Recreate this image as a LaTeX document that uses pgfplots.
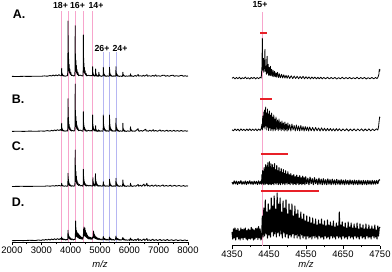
\documentclass[border=0pt]{standalone}
\usepackage{pgfplots}
\usepackage{pgfplotstable}
\pgfplotsset{compat=1.18}
\usepackage{fontspec}
\setmainfont{Liberation Sans}
\definecolor{pinkl}{RGB}{247,165,204}
\definecolor{bluel}{RGB}{182,182,242}
\definecolor{redbar}{RGB}{232,32,40}

\pgfplotstableread[row sep=\\]{x h\\
2000 0.3\\ 2200 0.2\\ 2400 0.4\\ 2600 0.3\\ 2800 0.5\\ 3000 0.4\\ 3100 0.8\\ 3200 0.5\\ 3300 1.2\\ 3350 0.6\\ 3400 1.6\\ 3450 0.8\\ 3500 1.8\\ 3550 0.9\\ 3600 2.0\\ 3650 1.0\\
3679 1.0\\ 3689 1.3\\ 3694 8.4\\ 3699 2.1\\ 3704 3.8\\ 3710 1.3\\ 3716 2.7\\ 3724 1.0\\ 3732 1.8\\ 3742 0.8\\ 3754 1.2\\ 3769 0.6\\ 3786 0.9\\ 3809 0.5\\
3895 1.1\\ 3905 8.4\\ 3910 55.7\\ 3915 13.9\\ 3920 25.1\\ 3926 8.4\\ 3932 17.8\\ 3940 5.6\\ 3948 12.3\\ 3958 3.9\\ 3970 7.8\\ 3985 2.2\\ 4002 4.5\\ 4025 1.1\\ 4060 1.5\\ 4100 0.8\\
4140 1.0\\ 4150 7.7\\ 4155 51\\ 4160 12.8\\ 4165 23\\ 4171 7.7\\ 4177 16.3\\ 4185 5.1\\ 4193 11.2\\ 4203 3.6\\ 4215 7.1\\ 4230 2.0\\ 4247 4.1\\ 4270 1.0\\ 4320 1.6\\ 4380 0.9\\
4417 0.8\\ 4427 6.3\\ 4432 41.7\\ 4437 10.4\\ 4442 18.8\\ 4448 6.3\\ 4454 13.3\\ 4462 4.2\\ 4470 9.2\\ 4480 2.9\\ 4492 5.8\\ 4507 1.7\\ 4524 3.3\\ 4547 0.8\\ 4600 1.5\\ 4660 0.9\\ 4700 1.2\\
4733 0.8\\ 4743 1.5\\ 4748 10\\ 4753 2.5\\ 4758 4.5\\ 4764 1.5\\ 4770 3.2\\ 4778 1.0\\ 4786 2.2\\ 4796 0.7\\ 4808 1.4\\ 4823 0.5\\ 4835 0.9\\
4845 1.2\\ 4850 7.7\\ 4855 1.9\\ 4860 3.5\\ 4866 1.2\\ 4872 2.5\\ 4880 0.8\\ 4888 1.7\\ 4898 0.5\\ 4910 1.1\\ 4925 0.4\\ 4940 0.7\\
4952 0.5\\ 4960 4.4\\ 4970 1.3\\ 4980 2.0\\ 4995 0.7\\ 5015 0.9\\ 5040 0.3\\ 5080 0.8\\
5098 0.6\\ 5108 1.4\\ 5113 9.4\\ 5118 2.4\\ 5123 4.2\\ 5129 1.4\\ 5135 3.0\\ 5143 0.9\\ 5151 2.1\\ 5161 0.7\\ 5173 1.3\\ 5188 0.4\\ 5205 0.8\\ 5228 0.3\\ 5260 0.9\\ 5290 0.4\\
5310 0.6\\ 5320 1.4\\ 5325 9.4\\ 5330 2.4\\ 5335 4.2\\ 5341 1.4\\ 5347 3.0\\ 5355 0.9\\ 5363 2.1\\ 5373 0.7\\ 5385 1.3\\ 5400 0.4\\ 5417 0.8\\ 5440 0.3\\ 5480 0.9\\ 5510 0.4\\
5530 0.6\\ 5540 1.5\\ 5545 10\\ 5550 2.5\\ 5555 4.5\\ 5561 1.5\\ 5567 3.2\\ 5575 1.0\\ 5583 2.2\\ 5593 0.7\\ 5605 1.4\\ 5620 0.4\\ 5637 0.8\\ 5660 0.3\\ 5700 0.8\\ 5740 0.3\\
5770 0.5\\ 5780 4.4\\ 5790 1.3\\ 5800 2.0\\ 5815 0.7\\ 5835 0.9\\ 5860 0.3\\ 5900 0.8\\ 5950 0.4\\ 5990 0.9\\
6030 0.4\\ 6040 2.8\\ 6050 0.9\\ 6060 1.3\\ 6080 0.5\\ 6100 0.7\\ 6140 0.3\\
6200 1.2\\ 6240 0.4\\ 6300 2.2\\ 6320 0.6\\ 6380 1.0\\ 6430 0.4\\ 6480 1.4\\ 6520 0.5\\ 6600 2.0\\ 6620 0.5\\ 6680 1.0\\ 6740 0.4\\ 6800 1.3\\ 6850 0.5\\ 6900 1.8\\ 6930 0.5\\ 7000 1.0\\ 7060 0.4\\ 7120 1.3\\ 7200 1.5\\ 7230 0.4\\ 7300 1.1\\ 7360 0.4\\ 7420 1.2\\ 7500 1.5\\ 7530 0.4\\ 7600 1.0\\ 7680 0.5\\ 7750 1.2\\ 7800 1.3\\ 7840 0.4\\ 7900 1.0\\ 7960 0.4\\ 8000 0.8\\
}\leftA

\pgfplotstableread[row sep=\\]{x h\\
2000 0.3\\ 2200 0.5\\ 2400 0.3\\ 2600 0.6\\ 2800 0.4\\ 3000 0.7\\ 3100 0.5\\ 3200 1.1\\ 3300 0.6\\ 3350 1.4\\ 3400 0.8\\ 3450 1.7\\ 3500 1.0\\ 3550 2.0\\ 3600 1.2\\ 3650 2.2\\
3679 1.2\\ 3689 1.3\\ 3694 8.4\\ 3699 2.1\\ 3704 3.8\\ 3710 1.3\\ 3716 2.7\\ 3724 1.0\\ 3732 1.8\\ 3742 0.8\\ 3754 1.2\\ 3769 0.6\\ 3786 0.9\\ 3809 0.5\\ 3850 0.9\\
3895 0.7\\ 3905 5.0\\ 3910 33\\ 3915 8.3\\ 3920 14.9\\ 3926 5.0\\ 3932 10.6\\ 3940 3.3\\ 3948 7.3\\ 3958 2.3\\ 3970 4.6\\ 3985 1.3\\ 4002 2.6\\ 4025 0.7\\ 4060 1.3\\ 4100 0.7\\
4140 1.0\\ 4150 7.2\\ 4155 47.7\\ 4160 11.9\\ 4165 21.5\\ 4171 7.2\\ 4177 15.3\\ 4185 4.8\\ 4193 10.5\\ 4203 3.3\\ 4215 6.7\\ 4230 1.9\\ 4247 3.8\\ 4270 1.0\\ 4320 1.6\\ 4380 0.9\\
4417 0.4\\ 4427 3.0\\ 4432 20\\ 4437 5.0\\ 4442 9.0\\ 4448 3.0\\ 4454 6.4\\ 4462 2.0\\ 4470 4.4\\ 4480 1.4\\ 4492 2.8\\ 4507 0.8\\ 4524 1.6\\ 4547 0.4\\ 4600 1.4\\ 4660 0.8\\ 4700 1.2\\
4733 0.6\\ 4743 2.5\\ 4748 16.7\\ 4753 4.2\\ 4758 7.5\\ 4764 2.5\\ 4770 5.3\\ 4778 1.7\\ 4786 3.7\\ 4796 1.2\\ 4808 2.3\\ 4823 0.7\\ 4835 1.3\\
4845 0.8\\ 4850 6\\ 4855 1.5\\ 4860 2.7\\ 4866 0.9\\ 4872 1.9\\ 4880 0.6\\ 4888 1.3\\ 4898 0.4\\ 4910 0.8\\ 4925 0.3\\ 4950 1.8\\ 4960 0.5\\ 4975 1.2\\ 5000 0.4\\ 5040 0.9\\ 5080 0.5\\
5098 0.6\\ 5108 2.5\\ 5113 16.7\\ 5118 4.2\\ 5123 7.5\\ 5129 2.5\\ 5135 5.3\\ 5143 1.7\\ 5151 3.7\\ 5161 1.2\\ 5173 2.3\\ 5188 0.7\\ 5205 1.3\\ 5228 0.4\\ 5260 1.0\\ 5290 0.5\\
5310 0.6\\ 5320 2.5\\ 5325 16.7\\ 5330 4.2\\ 5335 7.5\\ 5341 2.5\\ 5347 5.3\\ 5355 1.7\\ 5363 3.7\\ 5373 1.2\\ 5385 2.3\\ 5400 0.7\\ 5417 1.3\\ 5440 0.4\\ 5480 1.0\\ 5510 0.5\\
5530 0.5\\ 5540 2.0\\ 5545 13.4\\ 5550 3.4\\ 5555 6.0\\ 5561 2.0\\ 5567 4.3\\ 5575 1.3\\ 5583 2.9\\ 5593 0.9\\ 5605 1.9\\ 5620 0.5\\ 5637 1.1\\ 5660 0.3\\ 5700 0.9\\ 5740 0.4\\
5765 0.4\\ 5775 1.3\\ 5780 8.4\\ 5785 2.1\\ 5790 3.8\\ 5796 1.3\\ 5802 2.7\\ 5810 0.8\\ 5818 1.8\\ 5828 0.6\\ 5840 1.2\\ 5855 0.3\\ 5872 0.7\\ 5895 0.3\\ 5950 0.9\\ 5990 0.4\\
6030 0.4\\ 6040 5\\ 6050 1.5\\ 6060 2.2\\ 6075 0.7\\ 6090 1.1\\ 6110 0.4\\ 6140 0.7\\
6200 0.5\\ 6300 3.0\\ 6310 0.8\\ 6320 1.3\\ 6340 0.4\\ 6400 1.2\\ 6450 0.5\\ 6560 2.5\\ 6575 0.6\\ 6600 1.0\\ 6650 0.4\\ 6700 1.5\\ 6750 0.5\\ 6820 2.0\\ 6840 0.5\\ 6900 1.2\\ 6960 0.4\\ 7050 1.8\\ 7080 0.5\\ 7150 1.2\\ 7200 0.4\\ 7280 1.5\\ 7320 0.5\\ 7400 1.2\\ 7450 0.4\\ 7520 1.4\\ 7560 0.5\\ 7650 1.1\\ 7700 0.4\\ 7780 1.3\\ 7820 0.4\\ 7900 1.0\\ 7950 0.5\\ 8000 0.8\\
}\leftB

\pgfplotstableread[row sep=\\]{x h\\
2000 0.2\\ 2300 0.4\\ 2600 0.3\\ 2900 0.5\\ 3100 0.4\\ 3200 0.8\\ 3300 0.5\\ 3400 1.0\\ 3450 0.6\\ 3500 1.2\\ 3550 0.7\\ 3600 1.3\\ 3650 0.8\\
3684 0.9\\ 3694 3.4\\ 3704 1.2\\ 3714 1.6\\ 3729 0.7\\ 3749 0.9\\ 3774 0.4\\ 3820 0.8\\ 3860 0.5\\
3895 0.5\\ 3905 2.0\\ 3910 13.4\\ 3915 4.4\\ 3920 7.8\\ 3926 2.6\\ 3932 5.6\\ 3940 1.7\\ 3948 3.8\\ 3958 1.2\\ 3970 2.4\\ 3985 0.7\\ 4002 1.4\\ 4025 0.4\\ 4060 1.0\\ 4100 0.6\\
4140 0.8\\ 4150 5.5\\ 4155 36.7\\ 4160 11.9\\ 4165 21.5\\ 4171 7.2\\ 4177 15.3\\ 4185 4.8\\ 4193 10.5\\ 4203 3.3\\ 4215 6.7\\ 4230 1.9\\ 4247 3.8\\ 4270 1.2\\ 4300 2.2\\ 4330 0.8\\ 4370 1.3\\ 4400 0.6\\
4417 0.5\\ 4427 2.6\\ 4432 17.4\\ 4437 5.7\\ 4442 10.2\\ 4448 3.4\\ 4454 7.2\\ 4462 2.3\\ 4470 5.0\\ 4480 1.6\\ 4492 3.2\\ 4507 0.9\\ 4524 2.0\\ 4547 0.6\\ 4580 1.6\\ 4620 0.7\\ 4660 1.4\\ 4700 0.6\\ 4730 1.0\\
4745 0.5\\ 4755 1.4\\ 4760 9\\ 4765 2.9\\ 4770 5.3\\ 4776 1.8\\ 4782 3.7\\ 4790 1.2\\ 4798 2.6\\ 4808 0.8\\ 4820 1.6\\ 4832 0.6\\
4840 1.0\\ 4845 13\\ 4850 4.2\\ 4855 7.6\\ 4861 2.5\\ 4867 5.4\\ 4875 1.7\\ 4883 3.7\\ 4893 1.2\\ 4905 2.4\\ 4920 0.7\\ 4937 1.4\\ 4960 0.4\\ 5000 1.2\\ 5040 0.5\\ 5080 0.8\\
5103 0.5\\ 5113 5\\ 5123 1.6\\ 5133 2.2\\ 5148 0.8\\ 5168 1.0\\ 5193 0.4\\ 5240 0.9\\ 5280 0.4\\
5315 0.6\\ 5320 1.1\\ 5325 7.4\\ 5330 2.4\\ 5335 4.3\\ 5341 1.4\\ 5347 3.1\\ 5355 1.0\\ 5363 2.1\\ 5373 0.7\\ 5385 1.3\\ 5400 0.4\\ 5417 0.8\\ 5440 0.3\\ 5480 1.0\\ 5510 0.4\\
5530 0.4\\ 5540 1.3\\ 5545 8.4\\ 5550 2.7\\ 5555 4.9\\ 5561 1.6\\ 5567 3.5\\ 5575 1.1\\ 5583 2.4\\ 5593 0.8\\ 5605 1.5\\ 5620 0.4\\ 5637 0.9\\ 5660 0.3\\ 5700 0.9\\ 5740 0.4\\
5770 0.5\\ 5780 6.7\\ 5785 2.2\\ 5790 3.9\\ 5796 1.3\\ 5802 2.8\\ 5810 0.9\\ 5818 1.9\\ 5828 0.6\\ 5840 1.2\\ 5855 0.3\\ 5872 0.8\\ 5895 0.3\\ 5950 0.9\\ 5990 0.4\\
6030 0.4\\ 6040 3.5\\ 6050 1.1\\ 6060 1.6\\ 6075 0.5\\ 6090 0.8\\ 6110 0.3\\
6180 1.0\\ 6220 0.4\\ 6300 2.2\\ 6320 0.5\\ 6380 1.5\\ 6420 0.4\\ 6500 2.6\\ 6520 0.6\\ 6560 1.2\\ 6600 3.5\\ 6615 0.6\\ 6650 1.4\\ 6700 0.4\\ 6780 1.6\\ 6820 0.4\\ 6900 1.8\\ 6930 0.5\\ 7000 1.2\\ 7050 0.4\\ 7150 1.8\\ 7180 0.4\\ 7260 1.2\\ 7320 0.5\\ 7400 1.5\\ 7440 0.4\\ 7550 1.3\\ 7600 0.5\\ 7700 1.2\\ 7760 0.4\\ 7850 1.1\\ 7900 0.4\\ 7960 0.9\\ 8000 0.6\\
}\leftC

\pgfplotstableread[row sep=\\]{x h\\
2000 0.3\\ 2200 0.5\\ 2400 0.4\\ 2600 0.7\\ 2800 0.5\\ 2900 1.0\\ 3000 0.6\\ 3050 1.3\\ 3100 0.8\\ 3150 1.6\\ 3200 0.9\\ 3250 1.8\\ 3300 1.0\\ 3350 2.0\\ 3400 1.2\\ 3450 2.2\\ 3500 1.3\\ 3550 2.4\\ 3600 1.4\\ 3650 2.5\\ 3675 1.5\\
3685 1.6\\ 3694 4\\ 3700 1.8\\ 3710 2.6\\ 3722 1.5\\ 3740 2.2\\ 3760 1.2\\ 3790 1.8\\ 3820 1.0\\ 3850 1.6\\ 3880 1.1\\
3900 1.8\\ 3910 10.6\\ 3915 4.0\\ 3921 6.5\\ 3928 3.0\\ 3935 5.4\\ 3944 2.5\\ 3953 4.4\\ 3964 2.0\\ 3976 3.6\\ 3990 1.5\\ 4008 2.8\\ 4030 1.2\\ 4060 2.0\\ 4090 1.0\\ 4120 1.8\\ 4150 1.5\\
4160 4.0\\ 4170 20\\ 4176 7.0\\ 4182 13.5\\ 4189 5.5\\ 4196 10.5\\ 4204 4.5\\ 4212 9.0\\ 4222 4.0\\ 4232 8.0\\ 4244 3.5\\ 4256 7.5\\ 4270 3.0\\ 4284 6.5\\ 4298 2.5\\ 4312 5.5\\ 4328 2.2\\ 4345 4.5\\ 4362 2.0\\ 4380 3.5\\ 4400 1.8\\ 4420 2.8\\
4432 5.0\\ 4442 12.0\\ 4448 5.0\\ 4456 14.0\\ 4463 6.0\\ 4470 11.5\\ 4477 5.0\\ 4485 13.0\\ 4492 5.5\\ 4500 10.5\\ 4508 4.5\\ 4516 9.0\\ 4525 4.0\\ 4534 8.0\\ 4544 3.5\\ 4554 7.0\\ 4565 3.0\\ 4576 5.5\\ 4588 2.5\\ 4600 4.5\\ 4615 2.0\\ 4630 4.0\\ 4645 2.0\\ 4660 3.8\\ 4675 1.8\\ 4690 3.5\\ 4705 1.8\\ 4720 3.0\\ 4735 1.8\\ 4750 4.0\\
4765 3.0\\ 4780 10\\ 4786 4.0\\ 4793 7.5\\ 4800 3.5\\ 4808 6.5\\ 4817 3.0\\ 4826 5.5\\ 4836 2.5\\ 4847 4.5\\ 4860 2.2\\ 4874 4.0\\ 4890 1.8\\ 4906 3.2\\ 4922 1.5\\ 4940 2.8\\ 4960 1.3\\ 4985 2.4\\ 5010 1.2\\ 5040 2.0\\ 5070 1.0\\ 5095 1.6\\
5113 4.4\\ 5122 1.8\\ 5132 3.0\\ 5145 1.4\\ 5160 2.4\\ 5180 1.1\\ 5200 2.0\\ 5225 1.0\\ 5250 1.7\\ 5280 0.9\\ 5305 1.4\\
5325 4.0\\ 5334 1.6\\ 5344 2.8\\ 5357 1.3\\ 5372 2.2\\ 5392 1.0\\ 5412 1.8\\ 5437 0.9\\ 5462 1.5\\ 5492 0.8\\ 5525 1.5\\
5545 5.0\\ 5554 1.9\\ 5564 3.2\\ 5577 1.4\\ 5592 2.5\\ 5612 1.1\\ 5632 2.0\\ 5657 0.9\\ 5682 1.6\\ 5712 0.8\\ 5750 1.4\\
5780 3.5\\ 5790 1.3\\ 5802 2.4\\ 5818 1.0\\ 5838 1.7\\ 5860 0.8\\ 5890 1.3\\ 5930 0.7\\ 5980 1.2\\ 6010 0.6\\
6040 3.0\\ 6052 1.0\\ 6066 1.8\\ 6085 0.7\\ 6110 1.3\\ 6140 0.5\\
6200 1.6\\ 6230 0.5\\ 6300 2.5\\ 6315 0.6\\ 6370 1.4\\ 6420 0.5\\ 6500 2.0\\ 6530 0.5\\ 6600 2.5\\ 6620 0.6\\ 6680 1.2\\ 6730 0.4\\ 6800 1.8\\ 6840 0.5\\ 6920 1.4\\ 6960 0.4\\ 7050 1.6\\ 7090 0.5\\ 7180 1.3\\ 7220 0.4\\ 7300 1.5\\ 7340 0.5\\ 7450 1.2\\ 7500 0.4\\ 7600 1.3\\ 7650 0.4\\ 7750 1.1\\ 7800 0.4\\ 7900 1.0\\ 7950 0.4\\ 8000 0.7\\
}\leftD

\pgfplotstableread[row sep=\\]{x h\\
4350 0.0\\ 4354 1.0\\ 4358 -0.6\\ 4362 0.8\\ 4366 -0.4\\ 4370 1.1\\ 4374 -0.7\\ 4378 0.6\\ 4382 -0.3\\ 4386 1.2\\ 4390 -0.5\\ 4394 0.7\\ 4398 -0.8\\ 4402 0.9\\ 4406 -0.3\\ 4410 1.0\\ 4414 -0.6\\ 4418 0.8\\ 4422 -0.4\\ 4426 1.0\\ 4429 0.2\\
4431 12\\ 4432 40\\ 4433 8\\ 4435 20\\ 4436 6\\ 4438 15\\ 4439 29\\ 4440 7\\ 4442 12\\ 4443 4\\ 4444 18\\ 4445 22\\ 4446 5\\ 4448 14\\ 4449 3\\ 4451 11\\ 4452 3\\ 4454 12\\ 4455 2.5\\ 4457 9\\ 4459 2\\ 4461 8\\ 4463 1.5\\ 4465 7\\ 4467 1.5\\ 4469 5.5\\ 4471 1\\ 4473 6\\ 4476 0.8\\ 4478 4.5\\ 4481 0.5\\ 4484 4\\ 4487 0.3\\ 4490 3.5\\ 4493 0.2\\ 4496 3\\ 4499 0\\ 4502 2.8\\ 4506 -0.2\\ 4510 2.5\\ 4514 -0.3\\ 4518 2.2\\ 4522 -0.2\\ 4526 2.0\\ 4530 -0.4\\ 4534 1.8\\ 4538 -0.3\\ 4542 2.0\\ 4546 -0.5\\ 4550 1.6\\ 4554 -0.4\\ 4558 1.4\\ 4562 -0.6\\ 4566 1.3\\ 4570 -0.4\\ 4574 1.2\\ 4578 -0.6\\ 4582 1.0\\ 4586 -0.5\\ 4590 1.1\\ 4594 -0.6\\ 4598 0.9\\
4603 -0.5\\ 4608 1.0\\ 4613 -0.6\\ 4618 0.8\\ 4623 -0.4\\ 4628 0.9\\ 4633 -0.7\\ 4638 0.7\\ 4643 -0.5\\ 4648 1.0\\ 4653 -0.6\\ 4658 0.8\\ 4663 -0.4\\ 4668 0.9\\ 4673 -0.6\\ 4678 0.7\\ 4683 -0.5\\ 4688 1.0\\ 4693 -0.6\\ 4698 0.8\\ 4703 -0.4\\ 4708 0.9\\ 4713 -0.7\\ 4718 0.7\\ 4723 -0.5\\ 4728 0.9\\ 4733 -0.5\\ 4738 0.8\\ 4742 -0.3\\ 4745 1.5\\ 4747 4\\ 4748 9\\ 4749 7\\ 4750 9\\
}\rightA

\pgfplotstableread[row sep=\\]{x h\\
4350 0.2\\ 4354 -0.8\\ 4358 1.0\\ 4362 -0.6\\ 4366 0.9\\ 4370 -0.9\\ 4374 1.1\\ 4378 -0.5\\ 4382 0.8\\ 4386 -0.8\\ 4390 1.0\\ 4394 -0.6\\ 4398 1.2\\ 4402 -0.7\\ 4406 0.9\\ 4410 -0.5\\ 4414 1.1\\ 4418 -0.8\\ 4422 1.0\\ 4426 -0.4\\ 4429 1.5\\
4431 6\\ 4432 0\\ 4433 14\\ 4434 2\\ 4436 18\\ 4437 3\\ 4438 20\\ 4439 1\\ 4441 23\\ 4442 4\\ 4443 17\\ 4444 0\\ 4446 21\\ 4447 3\\ 4448 16\\ 4449 -0.5\\ 4451 19\\ 4452 2\\ 4454 15\\ 4455 -0.5\\ 4457 17\\ 4458 1\\ 4460 13\\ 4461 -1\\ 4463 15\\ 4464 1\\ 4466 11\\ 4467 -0.8\\ 4469 13\\ 4471 0.5\\ 4473 10\\ 4475 -0.8\\ 4477 11\\ 4479 0.5\\ 4481 8\\ 4483 -0.8\\ 4485 9\\ 4487 0.3\\ 4489 7\\ 4491 -1\\ 4493 8\\ 4495 0\\ 4497 6\\ 4499 -1\\ 4501 7\\ 4503 0\\ 4506 5.5\\ 4509 -1\\ 4512 6\\ 4515 0\\ 4518 4.5\\ 4521 -1\\ 4524 5\\ 4527 -0.5\\ 4530 4\\ 4533 -1\\ 4536 4.5\\ 4539 -0.5\\ 4542 3.5\\ 4545 -1\\ 4548 3.5\\ 4551 -0.5\\ 4554 3\\ 4557 -1\\ 4560 3\\ 4564 -0.8\\ 4568 2.5\\ 4572 -1\\ 4576 2.5\\ 4580 -0.8\\ 4584 2\\ 4588 -1\\ 4592 2.2\\ 4596 -0.8\\ 4600 1.8\\
4604 -1\\ 4608 1.6\\ 4612 -0.8\\ 4616 1.5\\ 4620 -0.9\\ 4624 1.3\\ 4628 -1\\ 4632 1.4\\ 4636 -0.8\\ 4640 1.2\\ 4645 -0.9\\ 4650 1.1\\ 4655 -0.8\\ 4660 1.2\\ 4665 -1\\ 4670 1.0\\ 4675 -0.8\\ 4680 1.1\\ 4685 -0.9\\ 4690 1.0\\ 4695 -0.8\\ 4700 1.2\\ 4705 -1\\ 4710 1.0\\ 4715 -0.8\\ 4720 1.1\\ 4725 -0.9\\ 4730 1.0\\ 4735 -0.7\\ 4740 1.2\\ 4744 0\\ 4746 3\\ 4748 10\\ 4749 13\\ 4750 12\\
}\rightB

\pgfplotstableread[row sep=\\]{x h\\
4350 0.5\\ 4353 -1.5\\ 4356 1.8\\ 4359 -1.2\\ 4362 1.5\\ 4365 -1.8\\ 4368 1.2\\ 4371 -1.0\\ 4374 2.0\\ 4377 -1.6\\ 4380 1.0\\ 4383 -1.4\\ 4386 1.7\\ 4389 -1.8\\ 4392 1.3\\ 4395 -1.1\\ 4398 1.9\\ 4401 -1.5\\ 4404 1.2\\ 4407 -1.7\\ 4410 1.6\\ 4413 -1.2\\ 4416 1.4\\ 4419 -1.8\\ 4422 1.8\\ 4425 -1.3\\ 4428 1.5\\
4430 -1.5\\ 4431 8\\ 4432 0\\ 4433 12\\ 4434 -1\\ 4435 9\\ 4436 -2\\ 4437 15\\ 4438 1\\ 4439 11\\ 4440 -1.5\\ 4441 18\\ 4442 2\\ 4443 13\\ 4444 -1\\ 4445 17\\ 4446 0\\ 4447 20\\ 4448 -2\\ 4449 14\\ 4450 1\\ 4451 21\\ 4452 -1.5\\ 4453 16\\ 4454 0\\ 4455 19\\ 4456 -2\\ 4457 12\\ 4458 1\\ 4459 18\\ 4460 -1\\ 4462 15\\ 4463 -2\\ 4465 19\\ 4466 0\\ 4468 13\\ 4469 -1.5\\ 4471 17\\ 4472 0\\ 4474 12\\ 4475 -2\\ 4477 15\\ 4478 -0.5\\ 4480 11\\ 4481 -2\\ 4483 14\\ 4484 0\\ 4486 10\\ 4487 -1.5\\ 4489 13\\ 4490 -0.5\\ 4492 9\\ 4493 -2\\ 4495 12\\ 4496 0\\ 4498 8\\ 4499 -1.5\\ 4501 11\\ 4503 -1\\ 4505 8\\ 4507 -2\\ 4509 9\\ 4511 -0.5\\ 4513 7\\ 4515 -2\\ 4517 8\\ 4519 -1\\ 4521 6\\ 4523 -2\\ 4525 7.5\\ 4527 -0.5\\ 4529 5.5\\ 4531 -2\\ 4533 7\\ 4535 -1\\ 4537 5\\ 4539 -2\\ 4541 6.5\\ 4543 -1\\ 4545 5\\ 4547 -2\\ 4549 6\\ 4552 -1\\ 4555 4.5\\ 4558 -2\\ 4561 5.5\\ 4564 -1\\ 4567 4\\ 4570 -2\\ 4573 5\\ 4576 -1\\ 4579 3.5\\ 4582 -2\\ 4585 4.5\\ 4588 -1.5\\ 4591 3.5\\ 4594 -2\\ 4597 4\\ 4600 -1.5\\
4603 3\\ 4606 -2\\ 4609 3.8\\ 4612 -1.5\\ 4615 3\\ 4618 -2\\ 4621 3.5\\ 4624 -1.5\\ 4627 2.8\\ 4630 -2\\ 4633 3.3\\ 4636 -1.5\\ 4639 2.6\\ 4642 -2\\ 4645 3\\ 4648 -1.5\\ 4651 2.5\\ 4654 -2\\ 4657 2.8\\ 4660 -1.5\\ 4663 2.4\\ 4666 -2\\ 4669 2.7\\ 4672 -1.5\\ 4675 2.3\\ 4678 -2\\ 4681 2.6\\ 4684 -1.5\\ 4687 2.2\\ 4690 -2\\ 4693 2.5\\ 4696 -1.5\\ 4699 2.1\\ 4702 -2\\ 4705 2.4\\ 4708 -1.5\\ 4711 2\\ 4714 -2\\ 4717 2.3\\ 4720 -1.5\\ 4723 2\\ 4726 -1.8\\ 4729 2.2\\ 4732 -1.5\\ 4735 2\\ 4738 -1.5\\ 4741 2.2\\ 4744 -1\\ 4747 2.5\\ 4750 3\\
}\rightC

\pgfplotstableread[row sep=\\]{x h\\
4350 2\\ 4352 -5\\ 4354 5\\ 4356 -4\\ 4358 6\\ 4360 -6\\ 4362 4\\ 4364 -3\\ 4366 5.5\\ 4368 -5\\ 4370 3\\ 4372 -6\\ 4374 6\\ 4376 -4\\ 4378 4.5\\ 4380 -5.5\\ 4382 5\\ 4384 -3.5\\ 4386 6\\ 4388 -5\\ 4390 3.5\\ 4392 -6\\ 4394 5\\ 4396 -4.5\\ 4398 4\\ 4400 -5\\ 4402 6.5\\ 4404 -4\\ 4406 5\\ 4408 -6\\ 4410 4\\ 4412 -5\\ 4414 5.5\\ 4416 -3.5\\ 4418 6\\ 4420 -5.5\\ 4422 7.5\\ 4424 -4\\ 4426 5\\ 4428 -6\\
4430 -4\\ 4432 18\\ 4434 -3\\ 4436 26\\ 4438 -2\\ 4440 34\\ 4442 0\\ 4444 22\\ 4446 -4\\ 4448 30\\ 4450 -1\\ 4452 24\\ 4454 -3\\ 4456 36\\ 4458 2\\ 4460 28\\ 4462 -2\\ 4464 38\\ 4466 0\\ 4468 25\\ 4470 -3\\ 4472 41\\ 4474 1\\ 4476 30\\ 4478 -2\\ 4480 36\\ 4482 0\\ 4484 22\\ 4486 -4\\ 4488 33\\ 4490 1\\ 4492 26\\ 4494 -3\\ 4496 34\\ 4498 0\\ 4500 20\\ 4502 -4\\ 4504 30\\ 4506 -1\\ 4508 24\\ 4510 -3\\ 4512 30\\ 4514 0\\ 4516 18\\ 4518 -4\\ 4520 28\\ 4522 -1\\ 4524 20\\ 4526 -4\\ 4528 24\\ 4530 -2\\ 4532 16\\ 4534 -5\\ 4536 22\\ 4538 -1\\ 4540 15\\ 4542 -4\\ 4544 20\\ 4546 -2\\ 4548 13\\ 4550 -5\\ 4552 18\\ 4554 -2\\ 4556 12\\ 4558 -4\\ 4560 17\\ 4562 -3\\ 4564 11\\ 4566 -5\\ 4568 16\\ 4570 -2\\ 4572 10\\ 4574 -4\\ 4576 15\\ 4578 -3\\ 4580 9\\ 4582 -5\\ 4584 14\\ 4586 -2\\ 4588 10\\ 4590 -4\\ 4592 15\\ 4594 -3\\ 4596 9\\ 4598 -5\\ 4600 13\\
4602 -2\\ 4604 8\\ 4606 -4\\ 4608 14\\ 4610 -3\\ 4612 9\\ 4614 -5\\ 4616 12\\ 4618 -2\\ 4620 8\\ 4622 -4\\ 4624 13\\ 4626 -3\\ 4628 7\\ 4630 -5\\ 4632 11\\ 4634 -2\\ 4636 8\\ 4638 -4\\ 4640 22\\ 4642 -3\\ 4644 9\\ 4646 -5\\ 4648 12\\ 4650 -2\\ 4652 7\\ 4654 -4\\ 4656 11\\ 4658 -3\\ 4660 6\\ 4662 -5\\ 4664 12\\ 4666 -2\\ 4668 7\\ 4670 -4\\ 4672 11\\ 4674 -3\\ 4676 6\\ 4678 -5\\ 4680 10\\ 4682 -2\\ 4684 6\\ 4686 -4\\ 4688 11\\ 4690 -3\\ 4692 5\\ 4694 -5\\ 4696 10\\ 4698 -2\\ 4700 6\\ 4702 -4\\ 4704 9\\ 4706 -3\\ 4708 5\\ 4710 -5\\ 4712 10\\ 4714 -2\\ 4716 5\\ 4718 -4\\ 4720 9\\ 4722 -3\\ 4724 5\\ 4726 -5\\ 4728 8\\ 4730 -2\\ 4732 5\\ 4734 -4\\ 4736 9\\ 4738 -3\\ 4740 4\\ 4742 -5\\ 4744 8\\ 4746 -2\\ 4748 6\\ 4750 7\\
}\rightD

\pgfplotstableread[row sep=\\]{x y\\
4426 212.4\\ 4444 212.4\\
}\barA
\pgfplotstableread[row sep=\\]{x y\\
4426 146.4\\ 4459 146.4\\
}\barB
\pgfplotstableread[row sep=\\]{x y\\
4428 91.4\\ 4501 91.4\\
}\barC
\pgfplotstableread[row sep=\\]{x y\\
4428 55\\ 4584 55\\
}\barD

\pgfplotsset{
  specaxis/.style={
    scale only axis, anchor=south west,
    axis x line=bottom, axis y line=none,
    x axis line style={-}, axis line style={-, line width=0.6bp},
    tick align=outside, major tick length=3bp, minor tick length=1.8bp,
    minor x tick num=1,
    every tick/.style={black, line width=0.5bp},
    xticklabel style={font=\fontsize{9.5}{10}\selectfont, inner sep=1.5bp},
    /pgf/number format/1000 sep={}, /pgf/number format/assume math mode=true,
    scaled x ticks=false, clip=false,
  },
  specL/.style={black, line width=0.85bp, line join=round, mark=none},
  specR/.style={black, line width=0.8bp, line join=round, mark=none},
  specRR/.style={black, line width=1.05bp, line join=round, mark=none},
  rbar/.style={color=redbar, line width=1.7bp, mark=none, solid},
}

\begin{document}
\begin{tikzpicture}[x=1bp,y=1bp]
\path[use as bounding box] (0,0) rectangle (392,272);

\begin{axis}[specaxis, at={(12bp,29.5bp)}, width=176bp, height=237bp,
  xmin=2000, xmax=8000, ymin=0, ymax=237, xtick={2000,3000,...,8000}]
  \addplot[pinkl, line width=0.9bp] coordinates {(3694,0) (3694,231.8)};
  \addplot[pinkl, line width=0.9bp] coordinates {(3910,0) (3910,231.8)};
  \addplot[pinkl, line width=0.9bp] coordinates {(4155,0) (4155,231.8)};
  \addplot[pinkl, line width=0.9bp] coordinates {(4432,0) (4432,231.8)};
  \addplot[pinkl, line width=0.9bp] coordinates {(4748,0) (4748,231.8)};
  \addplot[bluel, line width=0.9bp] coordinates {(5113,0) (5113,190.8)};
  \addplot[bluel, line width=0.9bp] coordinates {(5325,0) (5325,190.8)};
  \addplot[bluel, line width=0.9bp] coordinates {(5545,0) (5545,190.8)};
  \addplot[specL] table[x=x, y expr=\thisrow{h}+165.8] {\leftA};
  \addplot[specL] table[x=x, y expr=\thisrow{h}+110.8] {\leftB};
  \addplot[specL] table[x=x, y expr=\thisrow{h}+55.8] {\leftC};
  \addplot[specL] table[x=x, y expr=\thisrow{h}+1.5] {\leftD};
\end{axis}

\begin{axis}[specaxis, at={(232bp,26.3bp)}, width=148bp, height=240bp,
  xmin=4350, xmax=4750, ymin=0, ymax=240, xtick={4350,4450,...,4750}]
  \addplot[pinkl, line width=0.9bp] coordinates {(4432,0) (4432,234)};
  \addplot[specR] table[x=x, y expr=\thisrow{h}+167.4] {\rightA};
  \addplot[specR] table[x=x, y expr=\thisrow{h}+115.7] {\rightB};
  \addplot[specRR] table[x=x, y expr=\thisrow{h}+63] {\rightC};
  \addplot[specRR] table[x=x, y expr=\thisrow{h}+11.7] {\rightD};
  \addplot[rbar] table[x=x, y=y] {\barA};
  \addplot[rbar] table[x=x, y=y] {\barB};
  \addplot[rbar] table[x=x, y=y] {\barC};
  \addplot[rbar] table[x=x, y=y] {\barD};
\end{axis}

\begin{scope}[every node/.style={inner sep=0pt}]
\node[font=\bfseries\fontsize{12.5}{13}\selectfont] at (19,258) {A.};
\node[font=\bfseries\fontsize{12.5}{13}\selectfont] at (18,172.5) {B.};
\node[font=\bfseries\fontsize{12.5}{13}\selectfont] at (18,126) {C.};
\node[font=\bfseries\fontsize{12.5}{13}\selectfont] at (18,69.5) {D.};
\node[font=\bfseries\fontsize{8.8}{9}\selectfont] at (60.5,266.2) {18+};
\node[font=\bfseries\fontsize{8.8}{9}\selectfont] at (77.5,266.2) {16+};
\node[font=\bfseries\fontsize{8.8}{9}\selectfont] at (96,266.2) {14+};
\node[font=\bfseries\fontsize{8.8}{9}\selectfont] at (102,224) {26+};
\node[font=\bfseries\fontsize{8.8}{9}\selectfont] at (120,224) {24+};
\node[font=\bfseries\fontsize{8.8}{9}\selectfont] at (260,267) {15+};
\node[font=\itshape\fontsize{9.5}{10}\selectfont] at (100,8) {m/z};
\node[font=\itshape\fontsize{9.5}{10}\selectfont] at (306,8) {m/z};
\end{scope}
\end{tikzpicture}
\end{document}
